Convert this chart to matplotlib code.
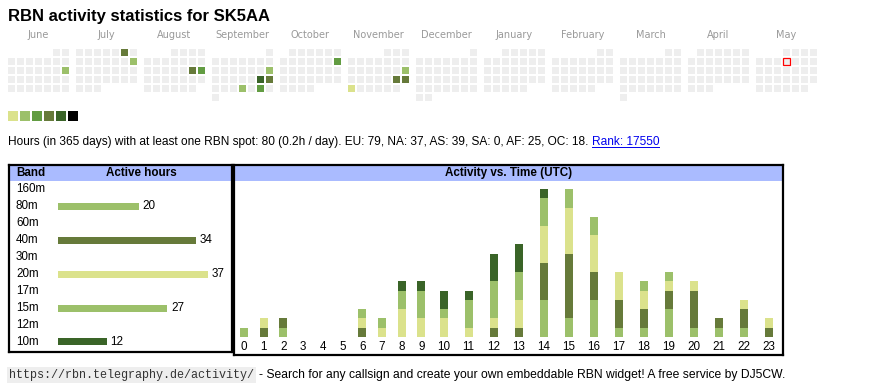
import datetime as dt
import matplotlib
matplotlib.use("Agg")
import matplotlib.pyplot as plt
from matplotlib.patches import Rectangle
from matplotlib.lines import Line2D
from matplotlib.transforms import blended_transform_factory

plt.rcParams['font.family'] = ['Liberation Sans', 'DejaVu Sans']

W, H = 870, 390

# ---- data ----
callsign = "SK5AA"
first_day = dt.date(2024, 6, 1)
last_day = dt.date(2025, 5, 31)
today = dt.date(2025, 5, 8)
month_names = ["June", "July", "August", "September", "October", "November",
               "December", "January", "February", "March", "April", "May"]

active_days = [dt.date(2024, 6, 16), dt.date(2024, 7, 6), dt.date(2024, 7, 14),
               dt.date(2024, 8, 17), dt.date(2024, 8, 18), dt.date(2024, 9, 15),
               dt.date(2024, 9, 21), dt.date(2024, 9, 22), dt.date(2024, 9, 26),
               dt.date(2024, 9, 28), dt.date(2024, 10, 13), dt.date(2024, 11, 17),
               dt.date(2024, 11, 23), dt.date(2024, 11, 24), dt.date(2024, 11, 25)]
active_day_hours = [3, 7, 3, 7, 5, 3, 10, 7, 3, 5, 5, 3, 7, 7, 2]

level_colors = ['#dbe28c', '#9cc06a', '#629c42', '#667a3a', '#3a6428', '#000000']
level_limits = [2, 4, 6, 9, 19]   # upper hours of each level, above -> black
empty_color = '#eeeeee'

bands = ['160m', '80m', '60m', '40m', '30m', '20m', '17m', '15m', '12m', '10m']
band_hours = [0, 20, 0, 34, 0, 37, 0, 27, 0, 12]
band_colors = ['#c0c0c0', '#9cc06a', '#c0c0c0', '#667a3a', '#c0c0c0',
               '#dbe28c', '#c0c0c0', '#9cc06a', '#c0c0c0', '#3a6428']

hours = list(range(24))
hourly = {
    '80m': [1, 0, 1, 0, 0, 0, 0, 0, 0, 0, 0, 0, 0, 0, 4, 2, 4, 1, 1, 3, 1, 1, 1, 0],
    '40m': [0, 1, 1, 0, 0, 0, 1, 0, 0, 0, 0, 0, 1, 1, 4, 7, 3, 3, 2, 2, 4, 1, 2, 1],
    '20m': [0, 1, 0, 0, 0, 0, 1, 1, 3, 2, 2, 1, 1, 3, 4, 5, 4, 3, 2, 1, 1, 0, 1, 1],
    '15m': [0, 0, 0, 0, 0, 0, 1, 1, 2, 3, 1, 3, 4, 3, 3, 2, 2, 0, 1, 1, 0, 0, 0, 0],
    '10m': [0, 0, 0, 0, 0, 0, 0, 0, 1, 1, 2, 1, 3, 3, 1, 0, 0, 0, 0, 0, 0, 0, 0, 0],
}

summary = ("Hours (in 365 days) with at least one RBN spot: 80 (0.2h / day). "
           "EU: 79, NA: 37, AS: 39, SA: 0, AF: 25, OC: 18.")
rank_text = "Rank: 17550"
url_text = "https://rbn.telegraphy.de/activity/"
footer_text = "- Search for any callsign and create your own embeddable RBN widget! A free service by DJ5CW."


def px_box(x0, y0, x1, y1):
    return [x0 / W, 1 - y1 / H, (x1 - x0) / W, (y1 - y0) / H]


def level_color(h):
    for lim, c in zip(level_limits, level_colors):
        if h <= lim:
            return c
    return level_colors[-1]


fig = plt.figure(figsize=(W / 100, H / 100), dpi=100)
fig.patch.set_facecolor('white')

fig.text(8 / W, 1 - 16 / H, "RBN activity statistics for " + callsign,
         fontsize=12, fontweight='bold', va='center', ha='left')

# ---- calendar ----
SQ, PITCH, BLOCK = 7, 9, 68
cal = fig.add_axes(px_box(8, 49, 817, 101))
cal.set_xlim(0, 809)
cal.set_ylim(52, 0)
cal.axis('off')
hours_by_day = dict(zip(active_days, active_day_hours))
d = first_day
while d <= last_day:
    m = (d.year - first_day.year) * 12 + d.month - first_day.month
    idx = d.day - 1 + d.replace(day=1).weekday()
    row, col = idx // 7, idx % 7
    fc = level_color(hours_by_day[d]) if d in hours_by_day else empty_color
    ec = 'red' if d == today else 'none'
    cal.add_patch(Rectangle((BLOCK * m + PITCH * col, PITCH * row), SQ, SQ,
                            facecolor=fc, edgecolor=ec, linewidth=0.9))
    d += dt.timedelta(days=1)
for m, name in enumerate(month_names):
    cal.text(BLOCK * m + (6 * PITCH + SQ) / 2, -14, name, ha='center', va='center',
             fontsize=7, color='#999999', family='DejaVu Sans', clip_on=False)

# ---- colour legend ----
leg = fig.add_axes(px_box(8, 111, 78, 121))
leg.set_xlim(0, 70)
leg.set_ylim(10, 0)
leg.axis('off')
for k, c in enumerate(level_colors):
    leg.add_patch(Rectangle((12 * k, 0), 10, 10, facecolor=c, edgecolor='none'))

# ---- band table ----
hdr_color = '#aabbff'
axb = fig.add_axes(px_box(9, 164.5, 232, 352))
axb.set_xlim(-12.2, 43.0)
axb.set_ylim(9.59, -1.46)
axb.barh(range(len(bands)), band_hours, height=7 / 17, color=band_colors, linewidth=0)
for i, (b, v) in enumerate(zip(bands, band_hours)):
    tr = blended_transform_factory(axb.transAxes, axb.transData)
    axb.text(0.031, i, b, transform=tr, va='center', ha='left', fontsize=8.4)
    if v:
        axb.annotate(str(v), (v, i), xytext=(2.7, 0), textcoords='offset points',
                     va='center', ha='left', fontsize=8.4)
hb = 16 / 187.5
axb.add_patch(Rectangle((0, 1 - hb), 1, hb, transform=axb.transAxes,
                        facecolor=hdr_color, edgecolor='none', zorder=1))
axb.text(0.031, 1 - 8.5 / 187.5, "Band", transform=axb.transAxes, fontweight='bold',
         fontsize=8.4, va='center', ha='left')
axb.text(0.595, 1 - 8.5 / 187.5, "Active hours", transform=axb.transAxes,
         fontweight='bold', fontsize=8.4, va='center', ha='center')
axb.set_xticks([])
axb.set_yticks([])
for s in axb.spines.values():
    s.set_linewidth(1.6)

# ---- activity vs time ----
axt = fig.add_axes(px_box(234, 164.5, 783, 355))
col_w = [14.4 + 5.3 * len(str(h)) for h in hours]
centers = []
acc = 0
for w in col_w:
    centers.append(acc + w / 2)
    acc += w
axt.set_xlim(-0.15, 548.85)
axt.set_ylim(-1.95, 18.65)
bottom = [0] * 24
for b in ['80m', '40m', '20m', '15m', '10m']:
    vals = hourly[b]
    axt.bar(centers, vals, width=8, bottom=bottom,
            color=band_colors[bands.index(b)], linewidth=0)
    bottom = [x + y for x, y in zip(bottom, vals)]
for c, h in zip(centers, hours):
    axt.text(c, -1.08, str(h), ha='center', va='center', fontsize=8.4)
ht = 16 / 190.5
axt.add_patch(Rectangle((0, 1 - ht), 1, ht, transform=axt.transAxes,
                        facecolor=hdr_color, edgecolor='none', zorder=1))
axt.text(0.5, 1 - 8.5 / 190.5, "Activity vs. Time (UTC)", transform=axt.transAxes,
         fontweight='bold', fontsize=8.4, va='center', ha='center')
axt.set_xticks([])
axt.set_yticks([])
for s in axt.spines.values():
    s.set_linewidth(1.6)

# ---- text lines ----
fig.canvas.draw()
r = fig.canvas.get_renderer()

t1 = fig.text(8 / W, 1 - 142 / H, summary, fontsize=8.6, va='center', ha='left')
x = t1.get_window_extent(renderer=r).x1 + 3.5
t2 = fig.text(x / W, 1 - 142 / H, rank_text, fontsize=8.6, va='center', ha='left',
              color='#0000ee')
bb = t2.get_window_extent(renderer=r)
fig.add_artist(Line2D([bb.x0 / W, bb.x1 / W], [(bb.y0 + 1) / H, (bb.y0 + 1) / H],
                      transform=fig.transFigure, color='#0000ee', linewidth=0.7))

t3 = fig.text(9 / W, 1 - 375 / H, url_text, fontsize=8.5, va='center', ha='left',
              family='Liberation Mono', color='#333333',
              bbox=dict(facecolor='#eeeeee', edgecolor='none', pad=1.5))
x = t3.get_window_extent(renderer=r).x1 + 5
fig.text(x / W, 1 - 375 / H, footer_text, fontsize=8.7, va='center', ha='left')

fig.savefig('out.png', dpi=100)
